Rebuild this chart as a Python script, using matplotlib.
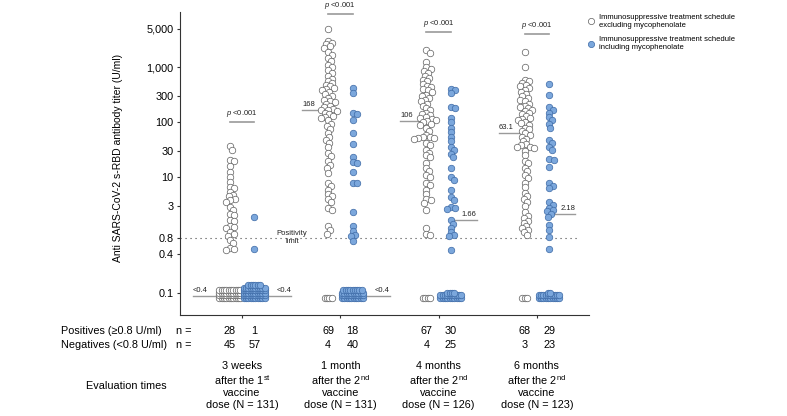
# Anti s-RBD antibody titers by treatment schedule (swarm plot with log axis)

import numpy as np
import matplotlib
matplotlib.use("Agg")
import matplotlib.pyplot as plt
import matplotlib.transforms as mtransforms
from matplotlib.lines import Line2D

plt.rcParams["font.family"] = ["Liberation Sans", "DejaVu Sans"]
plt.rcParams["mathtext.fontset"] = "custom"
plt.rcParams["mathtext.rm"] = "Liberation Sans"
plt.rcParams["mathtext.it"] = "Liberation Sans:italic"

# ---- data ----
group_labels = ["3 weeks\nafter the 1$^{\\mathrm{st}}$\nvaccine\ndose (N = 131)",
                "1 month\nafter the 2$^{\\mathrm{nd}}$\nvaccine\ndose (N = 131)",
                "4 months\nafter the 2$^{\\mathrm{nd}}$\nvaccine\ndose (N = 126)",
                "6 months\nafter the 2$^{\\mathrm{nd}}$\nvaccine\ndose (N = 123)"]

pos_excl = [28, 69, 67, 68]
pos_incl = [1, 18, 30, 29]
neg_excl = [45, 4, 4, 3]
neg_incl = [57, 40, 25, 23]

# number of results below 0.4 U/ml (shown at the bottom of the axis)
below_excl = [40, 4, 4, 3]
below_incl = [56, 39, 24, 22]

# measured titers >= 0.4 U/ml
titers_excl = [
    [37, 32, 21, 20, 16, 12.5, 10.2, 8.3, 6.7, 6.5, 5.5, 4.8, 4.5, 4.1, 3.8, 3.6,
     2.9, 2.6, 2.2, 2.1, 1.7, 1.6, 1.3, 1.2, 1.25, 1.0, 0.95, 0.85,
     0.72, 0.65, 0.52, 0.5, 0.48],
    [4900, 3000, 2800, 2600, 2400, 2200, 1900, 1700, 1500, 1300, 1100, 1000, 900,
     800, 700, 620, 560, 520, 480, 450, 420, 400, 380, 350, 330, 300, 280, 260,
     240, 230, 220, 200, 190, 175, 168, 165, 160, 150, 140, 130, 125, 120, 110,
     95, 85, 75, 65, 55, 48, 42, 35, 28, 24, 20, 17, 15, 12, 8, 7, 6, 5, 4.5, 4,
     3.5, 2.8, 2.5, 1.3, 1.1, 0.95],
    [2050, 1850, 1260, 1000, 950, 850, 800, 700, 650, 600, 560, 500, 450, 430,
     400, 380, 350, 320, 300, 280, 260, 240, 220, 200, 180, 165, 150, 140, 135,
     125, 120, 115, 110, 106, 100, 95, 90, 80, 70, 60, 55, 54, 53, 52, 50, 42,
     38, 32, 28, 25, 23, 18, 15, 13, 11, 10, 8, 7.3, 6, 5, 4, 3.9, 3.4, 2.5,
     1.2, 0.95, 0.9],
    [1900, 1030, 600, 560, 520, 480, 450, 420, 390, 360, 330, 300, 280, 260, 240,
     220, 200, 190, 180, 170, 160, 150, 140, 130, 120, 115, 110, 100, 97, 90, 80,
     75, 70, 63.1, 60, 55, 50, 45, 40, 38, 36, 35, 34, 30, 25, 20, 18, 15, 13,
     11, 9.6, 8, 6.7, 5.2, 4.5, 4, 3.6, 3, 2.3, 2, 1.8, 1.6, 1.5, 1.3, 1.2, 1.1,
     1.0, 0.9],
]
titers_incl = [
    [1.9, 0.49],
    [420, 340, 145, 140, 110, 63, 40, 23, 19, 18, 12.5, 8, 7.8, 2.3, 1.3, 1.06,
     0.9, 0.85, 0.7],
    [410, 380, 340, 190, 185, 120, 100, 80, 66, 54, 45, 35, 31, 27, 23, 14.6, 10,
     8.9, 5.9, 4.4, 3.9, 2.9, 2.8, 2.7, 1.7, 1.45, 1.2, 1.0, 0.9, 0.85, 0.48],
    [490, 320, 190, 170, 150, 125, 110, 95, 80, 48, 42, 36, 31, 22, 21, 15.5,
     7.9, 7, 6.4, 3.6, 3.2, 2.8, 2.6, 2.4, 2.2, 1.9, 1.36, 1.1, 0.82, 0.5],
]

median_excl = ["<0.4", "168", "106", "63.1"]
median_incl = ["<0.4", "<0.4", "1.66", "2.18"]
p_bar_y = [100, 9200, 4400, 4100]

lod = 0.4          # values below this are drawn at lod_show
lod_show = 0.1
positivity = 0.8
y_ticks = [0.1, 0.4, 0.8, 3, 10, 30, 100, 300, 1000, 5000]
y_ticklabels = ["0.1", "0.4", "0.8", "3", "10", "30", "100", "300", "1,000", "5,000"]

white_face, white_edge = "white", "#5e5e5e"
blue_face, blue_edge = "#7ba7dc", "#3d6aa6"
line_gray = "#9a9a9a"

# ---- axis with a slightly stretched segment below 0.4 ----
k_low = 1.17
l0 = np.log10(lod)


def fwd(y):
    ly = np.log10(np.maximum(np.asarray(y, float), 1e-9))
    return np.where(ly >= l0, ly, l0 + k_low * (ly - l0))


def inv(s):
    s = np.asarray(s, float)
    return np.where(s >= l0, 10 ** s, 10 ** (l0 + (s - l0) / k_low))


fig = plt.figure(figsize=(7.87, 4.16), dpi=100)
ax = fig.add_axes([180 / 787, 101 / 416, 409 / 787, 302.7 / 416])
ax.set_yscale("function", functions=(fwd, inv))
ax.set_ylim(0.0456, 10000)
ax.set_xlim(0.369, 4.53)

px = ax.transData.transform((1, 1))[0] - ax.transData.transform((0, 1))[0]  # pixels per x unit
col_off = 12.2 / px
centers = np.arange(1, 5)


def swarm(xc, vals, d=4.2):
    pts = ax.transData.transform(np.column_stack([np.full(len(vals), xc), vals]))
    offs = [0.0]
    for s in np.arange(0.5, 30, 0.5):
        offs += [s, -s]
    placed = []
    xs = np.zeros(len(vals))
    for i in np.argsort(-pts[:, 1]):
        x0, y0 = pts[i]
        for o in offs:
            if all((x0 + o - a) ** 2 + (y0 - b) ** 2 >= d * d for a, b in placed):
                break
        placed.append((x0 + o, y0))
        xs[i] = x0 + o
    return ax.transData.inverted().transform(np.column_stack([xs, pts[:, 1]]))


def block(xc, n, per_row=10, dx=2.3, dy=2.6, drop=5):
    x0, y0 = ax.transData.transform((xc, lod_show))
    xs, ys = [], []
    r = 0
    left = n
    while left > 0:
        m = min(per_row, left)
        xs += list(x0 + (np.arange(m) - (m - 1) / 2) * dx)
        ys += [y0 - drop + r * dy] * m
        left -= m
        r += 1
    return ax.transData.inverted().transform(np.column_stack([xs, ys]))


ms = 22
for i, c in enumerate(centers):
    for vals, nb, xc, fc, ec in [(titers_excl[i], below_excl[i], c - col_off, white_face, white_edge),
                                 (titers_incl[i], below_incl[i], c + col_off, blue_face, blue_edge)]:
        sw = swarm(xc, vals)
        ax.scatter(sw[:, 0], sw[:, 1], s=ms, facecolor=fc, edgecolor=ec, linewidth=0.5, zorder=3)
        bl = block(xc, nb)
        ax.scatter(bl[:, 0], bl[:, 1], s=ms, facecolor=fc, edgecolor=ec, linewidth=0.5, zorder=3)

    # median lines
    for lab, side in [(median_excl[i], -1), (median_incl[i], 1)]:
        xc = c + side * col_off
        if lab.startswith("<"):
            yv, near, far = 0.09, 14.5, 37
        else:
            yv, near, far = float(lab), 2.5, 26
        xa, xb = sorted([xc + side * near / px, xc + side * far / px])
        ax.plot([xa, xb], [yv, yv], color=line_gray, lw=1, zorder=2)
        ax.annotate(lab, (xa if side < 0 else xb, yv), xytext=(0, 1.5), textcoords="offset points",
                    ha="left" if side < 0 else "right", va="bottom", fontsize=5.5, color="#222222")

    # p-value
    ax.plot([c - col_off, c + col_off], [p_bar_y[i], p_bar_y[i]], color=line_gray, lw=1.2)
    ax.annotate("$\\it{p}$ <0.001", (c, p_bar_y[i]), xytext=(0, 2.2), textcoords="offset points",
                ha="center", va="bottom", fontsize=5.5, color="#222222")

# positivity limit
ax.plot([0.369, 4.44], [positivity, positivity], color="#444444", lw=0.8,
        linestyle=(0, (1, 3.5)), zorder=1)
ax.text(1.51, positivity, "Positivity\nlimit", ha="center", va="center", fontsize=5.5,
        color="#222222", linespacing=1.25)

# axes styling
for s in ["top", "right"]:
    ax.spines[s].set_visible(False)
for s in ["left", "bottom"]:
    ax.spines[s].set_linewidth(0.8)
    ax.spines[s].set_color("#333333")
ax.set_yticks(y_ticks)
ax.set_yticklabels(y_ticklabels)
ax.yaxis.set_minor_locator(plt.NullLocator())
ax.set_xticks(centers)
ax.set_xticklabels([])
ax.tick_params(axis="both", length=2.5, width=0.8, color="#333333", labelsize=7.8, pad=2)
ax.set_ylabel("Anti SARS-CoV-2 s-RBD antibody titer (U/ml)", fontsize=7.5)
ax.yaxis.set_label_coords(-0.139, 0.519)

# table below the axis
trans = mtransforms.blended_transform_factory(ax.transData, fig.transFigure)
row_y = [1 - 330.7 / 416, 1 - 345 / 416]
fig.text(61 / 787, row_y[0], "Positives (\u22650.8 U/ml)", fontsize=7.8, va="center")
fig.text(61 / 787, row_y[1], "Negatives (<0.8 U/ml)", fontsize=7.8, va="center")
for y in row_y:
    fig.text(176 / 787, y, "n =", fontsize=7.8, va="center")
for i, c in enumerate(centers):
    ax.text(c - col_off, row_y[0], str(pos_excl[i]), transform=trans, ha="center", va="center", fontsize=7.8)
    ax.text(c + col_off, row_y[0], str(pos_incl[i]), transform=trans, ha="center", va="center", fontsize=7.8)
    ax.text(c - col_off, row_y[1], str(neg_excl[i]), transform=trans, ha="center", va="center", fontsize=7.8)
    ax.text(c + col_off, row_y[1], str(neg_incl[i]), transform=trans, ha="center", va="center", fontsize=7.8)
    ax.text(c, 1 - 385.2 / 416, group_labels[i], transform=trans, ha="center", va="center",
            fontsize=7.8, linespacing=1.2)
fig.text(126 / 787, 1 - 385.7 / 416, "Evaluation times", fontsize=7.8, ha="center", va="center")

# legend
handles = [Line2D([], [], marker="o", ls="", ms=4.5, mfc=white_face, mec=white_edge, mew=0.5),
           Line2D([], [], marker="o", ls="", ms=4.5, mfc=blue_face, mec=blue_edge, mew=0.5)]
labels = ["Immunosuppressive treatment schedule\nexcluding mycophenolate",
          "Immunosuppressive treatment schedule\nincluding mycophenolate"]
fig.legend(handles, labels, loc="upper left", bbox_to_anchor=(584 / 787, 1 - 10 / 416), frameon=False,
           fontsize=5.5, handlelength=0.8, handletextpad=0.6, labelspacing=1.0, borderpad=0)

fig.savefig("out.png", dpi=100)
